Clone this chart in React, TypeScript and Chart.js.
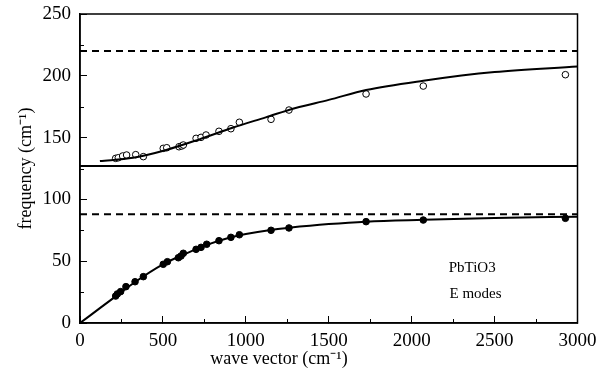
import React, { useEffect, useRef } from 'react';
import { Chart, registerables } from 'chart.js';

Chart.register(...registerables);

// ---- data ----
const xTickValues = [0, 500, 1000, 1500, 2000, 2500, 3000];
const yTickValues = [0, 50, 100, 150, 200, 250];
const xMinorTicks = [250, 750, 1250, 1750, 2250, 2750];
const yMinorTicks = [25, 75, 125, 175, 225];

// measured upper branch (open circles)
const upperObsX = [215, 231, 257, 281, 336, 382, 502, 523, 597, 613, 623, 700, 730, 760, 838, 910, 961, 1152, 1260, 1725, 2070, 2927];
const upperObsY = [133.2, 133.7, 135.1, 135.9, 136.2, 134.6, 141.3, 141.8, 142.6, 143.2, 144, 149.4, 150.2, 152.1, 155.1, 157.2, 162.4, 164.8, 172.3, 185.3, 191.7, 200.9];

// measured lower branch (filled circles)
const lowerObsX = [215, 225, 245, 277, 332, 382, 502, 527, 593, 609, 623, 700, 730, 764, 838, 910, 961, 1152, 1260, 1725, 2070, 2927];
const lowerObsY = [21.8, 23.5, 25.4, 29.4, 33.4, 37.5, 47.5, 49.6, 52.8, 54.2, 56.4, 59.6, 61.2, 63.7, 66.6, 69.3, 71.4, 75, 76.9, 82, 83.3, 84.7];

// calculated dispersion curves
const upperFitX = [120, 320, 520, 720, 920, 1120, 1300, 1500, 1725, 2070, 2500, 3000];
const upperFitY = [131, 133.7, 140, 148.6, 158, 166.4, 174, 180.5, 188.5, 196, 203, 207.5];
const lowerFitX = [0, 120, 215, 330, 500, 620, 760, 900, 1000, 1150, 1260, 1500, 1725, 2070, 2500, 3000];
const lowerFitY = [0, 12, 21.5, 33, 47.5, 55, 63, 69, 72, 75.3, 77, 80, 82, 83.5, 85, 86];

// horizontal reference levels
const xRange = [0, 3000];
const upperLimit = 220;
const lowerLimit = 88;
const gapLevel = 127;

const xTitle = 'wave vector (cm\u207B\u00B9)';
const yTitle = 'frequency (cm\u207B\u00B9)';
const label1 = 'PbTiO3';
const label2 = 'E modes';
const label1Pos = [2365, 44.5];
const label2Pos = [2385, 23.5];
const xTitleCenter = 1200;

const zip = (xs: number[], ys: number[]) => xs.map((x, i) => ({ x, y: ys[i] }));
const flat = (v: number) => xRange.map((x) => ({ x, y: v }));

const SERIF = '"Liberation Serif", "Times New Roman", serif';

const framePlugin = {
  id: 'frameExtras',
  afterDraw(chart: any) {
    const { ctx, chartArea: a, scales } = chart;
    const x = scales.x;
    const y = scales.y;
    ctx.save();
    ctx.strokeStyle = '#000';
    ctx.lineWidth = 1.5;
    ctx.strokeRect(a.left, a.top, a.right - a.left, a.bottom - a.top);
    ctx.lineWidth = 1;
    ctx.beginPath();
    xMinorTicks.forEach((v) => {
      const px = Math.round(x.getPixelForValue(v)) + 0.5;
      ctx.moveTo(px, a.bottom);
      ctx.lineTo(px, a.bottom - 4);
    });
    yMinorTicks.forEach((v) => {
      const py = Math.round(y.getPixelForValue(v)) + 0.5;
      ctx.moveTo(a.left, py);
      ctx.lineTo(a.left + 4, py);
    });
    ctx.stroke();

    ctx.fillStyle = '#000';
    ctx.textAlign = 'center';
    ctx.textBaseline = 'middle';
    ctx.font = '15px ' + SERIF;
    ctx.fillText(label1, x.getPixelForValue(label1Pos[0]), y.getPixelForValue(label1Pos[1]));
    ctx.fillText(label2, x.getPixelForValue(label2Pos[0]), y.getPixelForValue(label2Pos[1]));

    ctx.font = '18px ' + SERIF;
    ctx.fillText(xTitle, x.getPixelForValue(xTitleCenter), chart.height - 20);
    ctx.restore();
  },
};

export default function App() {
  const ref = useRef<HTMLCanvasElement | null>(null);

  useEffect(() => {
    if (!ref.current) return;
    const chart = new Chart(ref.current, {
      type: 'scatter',
      data: {
        datasets: [
          {
            data: flat(upperLimit),
            showLine: true,
            borderColor: '#000',
            borderWidth: 2,
            borderDash: [7, 5],
            pointRadius: 0,
          },
          {
            data: flat(lowerLimit),
            showLine: true,
            borderColor: '#000',
            borderWidth: 2,
            borderDash: [7, 5],
            pointRadius: 0,
          },
          {
            data: flat(gapLevel),
            showLine: true,
            borderColor: '#000',
            borderWidth: 2,
            pointRadius: 0,
          },
          {
            data: zip(upperFitX, upperFitY),
            showLine: true,
            borderColor: '#000',
            borderWidth: 2,
            pointRadius: 0,
            cubicInterpolationMode: 'monotone',
          },
          {
            data: zip(lowerFitX, lowerFitY),
            showLine: true,
            borderColor: '#000',
            borderWidth: 2,
            pointRadius: 0,
            cubicInterpolationMode: 'monotone',
          },
          {
            data: zip(upperObsX, upperObsY),
            showLine: false,
            pointRadius: 3.3,
            pointBorderWidth: 1,
            pointBorderColor: '#000',
            pointBackgroundColor: '#fff',
          },
          {
            data: zip(lowerObsX, lowerObsY),
            showLine: false,
            pointRadius: 3.3,
            pointBorderWidth: 1,
            pointBorderColor: '#000',
            pointBackgroundColor: '#000',
          },
        ],
      },
      options: {
        responsive: false,
        animation: false,
        layout: { padding: { left: 0, right: 38.5, top: 14, bottom: 0 } },
        plugins: {
          legend: { display: false },
          tooltip: { enabled: false },
        },
        scales: {
          x: {
            type: 'linear',
            min: 0,
            max: 3000,
            afterBuildTicks: (s: any) => {
              s.ticks = xTickValues.map((v) => ({ value: v }));
            },
            afterFit: (s: any) => {
              s.height = 56;
              s.paddingLeft = 0;
              s.paddingRight = 0;
            },
            grid: {
              drawOnChartArea: false,
              drawTicks: true,
              tickLength: -7,
              color: '#000',
              lineWidth: 1,
            },
            border: { display: true, color: '#000', width: 1.5 },
            ticks: {
              autoSkip: false,
              maxRotation: 0,
              padding: 14,
              color: '#000',
              font: { family: SERIF, size: 19 },
              callback: (v: any) => String(v),
            },
            title: { display: false },
          },
          y: {
            type: 'linear',
            min: 0,
            max: 250,
            afterBuildTicks: (s: any) => {
              s.ticks = yTickValues.map((v) => ({ value: v }));
            },
            afterFit: (s: any) => {
              s.width = 80;
              s.paddingTop = 0;
              s.paddingBottom = 0;
            },
            grid: {
              drawOnChartArea: false,
              drawTicks: true,
              tickLength: -7,
              color: '#000',
              lineWidth: 1,
            },
            border: { display: true, color: '#000', width: 1.5 },
            ticks: {
              autoSkip: false,
              padding: 16,
              color: '#000',
              font: { family: SERIF, size: 19 },
              callback: (v: any) => String(v),
            },
            title: {
              display: true,
              text: yTitle,
              color: '#000',
              font: { family: SERIF, size: 18 },
              padding: { top: 15, bottom: 0 },
            },
          },
        },
      },
      plugins: [framePlugin],
    } as any);
    return () => chart.destroy();
  }, []);

  return (
    <div style={{ position: 'absolute', left: 0, top: 0, width: 616, height: 379, background: '#fff' }}>
      <canvas ref={ref} width={616} height={379} style={{ display: 'block' }} />
    </div>
  );
}
